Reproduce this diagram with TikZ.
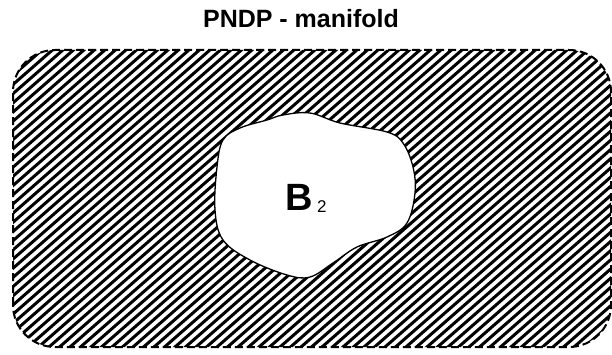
\documentclass[tikz,border=0pt]{standalone}
\usepackage{fontspec}
\setmainfont{Liberation Sans}
\usepackage{tikz}
\usetikzlibrary{positioning}

\begin{document}
\begin{tikzpicture}[x=1pt, y=1pt,
  hatchline/.style={line width=3pt, black},
  border/.style={line width=2pt, dash pattern=on 8pt off 4pt, rounded corners=42pt},
  hole/.style={draw=black, fill=white, line width=1.3pt},
  title/.style={font=\bfseries\fontsize{25}{30}\selectfont},
  holelabel/.style={font=\bfseries\fontsize{38}{44}\selectfont}]
\useasboundingbox (0,0) rectangle (612,354);
% Hatched manifold
\begin{scope}
  \clip[rounded corners=42pt] (13,7) rectangle (611,304);
  \foreach \c in {-400,-389.5,...,620} {
    \draw[hatchline] (\c,0) -- ++(400,350);
  }
\end{scope}
\draw[border] (13,7) rectangle (611,304);
% The hole
\draw[hole] plot[smooth cycle, tension=0.6] coordinates {
  (283,239) (310,241) (340,231) (387,222) (403,211) (413,187)
  (415,161) (407,131) (387,117) (357,107) (333,91) (310,77)
  (287,79) (250,94) (223,114) (215,144) (217,187) (223,214)
  (240,226) (267,234)};
\node[holelabel, inner sep=0pt] (hole) at (299,157) {B};
\node[font=\fontsize{17}{19}\selectfont, inner sep=0pt, anchor=south west] (sub) at ([xshift=4pt, yshift=-2pt]hole.south east) {2};

\node[title] (name) at (301,335) {PNDP - manifold};
\end{tikzpicture}
\end{document}
